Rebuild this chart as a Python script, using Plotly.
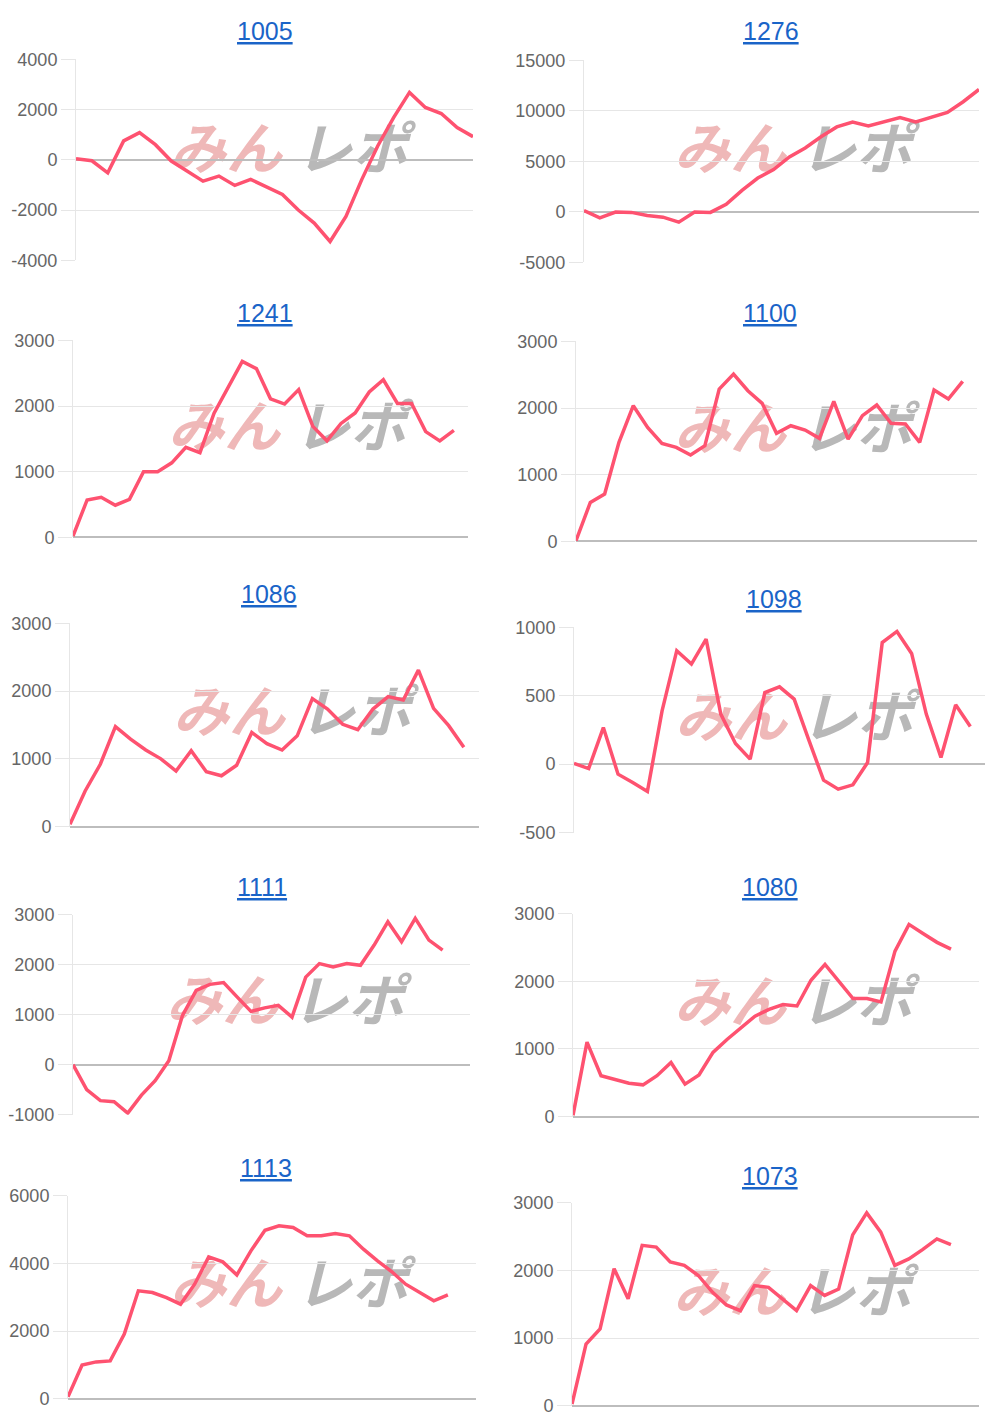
import plotly.graph_objects as go

# ---------------- data ----------------
titles = ["1005", "1276", "1241", "1100", "1086", "1098", "1111", "1080", "1113", "1073"]
slot_counts = [26, 26, 29, 29, 28, 29, 30, 30, 30, 30]

s1005 = [40, -40, -520, 750, 1080, 600, -50, -450, -850, -650, -1020, -780, -1090,
         -1380, -2000, -2520, -3250, -2250, -780, 550, 1680, 2680, 2080, 1840, 1280, 920]
s1276 = [130, -600, -30, -60, -360, -530, -1030, -30, -60, 730, 2120, 3340, 4170,
         5430, 6320, 7420, 8400, 8870, 8500, 8900, 9330, 8900, 9330, 9830, 10890, 12110]
s1241 = [20, 570, 610, 490, 580, 1000, 1000, 1135, 1370, 1290, 1890, 2290, 2680, 2570,
         2110, 2030, 2250, 1690, 1470, 1735, 1895, 2215, 2400, 2040, 2040, 1610, 1470, 1630]
s1100 = [10, 585, 710, 1485, 2035, 1710, 1470, 1410, 1295, 1435, 2285, 2510, 2260, 2070,
         1620, 1735, 1670, 1545, 2100, 1535, 1885, 2045, 1770, 1760, 1485, 2270, 2135, 2400]
s1086 = [35, 525, 920, 1475, 1290, 1130, 1000, 820, 1120, 810, 750, 905, 1390, 1225,
         1130, 1340, 1890, 1735, 1510, 1430, 1735, 1920, 1870, 2310, 1745, 1490, 1170]
s1098 = [5, -32, 268, -73, -134, -200, 390, 830, 732, 915, 366, 151, 37, 524, 566, 476,
         176, -117, -183, -151, 12, 890, 971, 810, 366, 49, 434, 276]
s1111 = [0, -500, -720, -740, -970, -610, -320, 80, 985, 1485, 1605, 1640, 1350, 1065,
         1135, 1185, 950, 1750, 2020, 1955, 2020, 1985, 2390, 2855, 2455, 2925, 2490, 2290]
s1080 = [20, 1100, 605, 555, 495, 470, 605, 800, 480, 615, 950, 1140, 1320, 1485, 1585,
         1655, 1635, 2015, 2250, 1995, 1745, 1745, 1695, 2445, 2840, 2705, 2575, 2475]
s1113 = [60, 995, 1090, 1120, 1910, 3190, 3140, 2990, 2795, 3385, 4190, 4045, 3660, 4370,
         4980, 5110, 5060, 4815, 4815, 4885, 4815, 4420, 4075, 3760, 3385, 3140, 2895, 3070]
s1073 = [25, 910, 1135, 2025, 1580, 2370, 2345, 2125, 2075, 1925, 1680, 1490, 1405, 1775,
         1750, 1570, 1405, 1775, 1630, 1725, 2525, 2850, 2565, 2075, 2170, 2310, 2465, 2380]

series = [s1005, s1276, s1241, s1100, s1086, s1098, s1111, s1080, s1113, s1073]

ticks_1005 = [-4000, -2000, 0, 2000, 4000]
ticks_1276 = [-5000, 0, 5000, 10000, 15000]
ticks_1241 = [0, 1000, 2000, 3000]
ticks_1100 = [0, 1000, 2000, 3000]
ticks_1086 = [0, 1000, 2000, 3000]
ticks_1098 = [-500, 0, 500, 1000]
ticks_1111 = [-1000, 0, 1000, 2000, 3000]
ticks_1080 = [0, 1000, 2000, 3000]
ticks_1113 = [0, 2000, 4000, 6000]
ticks_1073 = [0, 1000, 2000, 3000]
tick_lists = [ticks_1005, ticks_1276, ticks_1241, ticks_1100, ticks_1086,
              ticks_1098, ticks_1111, ticks_1080, ticks_1113, ticks_1073]

# ---------------- layout (page pixels) ----------------
PAGE_OX = 8                      # body margin (horizontal)
OY, SY = 17.8, 0.9855            # observed vertical placement of the figure on the page
W, H = 984, 1420                 # figure size


def px(X):
    return (X - PAGE_OX) / W


def py(Y):
    return 1 - ((Y - OY) / SY) / H


# plot boxes in page pixels: x0, x1, ytop, ybottom
boxes = [
    (76, 473, 59, 260), (584, 979, 60, 262),
    (73, 468, 340, 537), (576, 977, 341, 541),
    (70, 479, 623, 826), (574, 985, 627, 832),
    (73, 470, 914, 1114), (573, 979, 913, 1116),
    (68, 476, 1195, 1398), (572, 979, 1202, 1405),
]
title_pos = [
    (265, 31), (771, 31), (265, 313), (770, 313), (269, 594),
    (774, 599), (262, 886), (770, 886), (266, 1167), (770, 1175),
]
wm_center = [
    (292, 153), (796, 153), (290, 431), (796, 433), (295, 716),
    (797, 721), (288, 1005), (796, 1006), (292, 1288), (795, 1296),
]

LINE = "#fe5270"
GRID = "#e6e6e6"
ZERO = "#bdbdbd"
TICKFONT = dict(family="Liberation Sans, Arial, sans-serif", size=18, color="#666666")

fig = go.Figure()
annotations = []
shapes = []

for i in range(10):
    n = i + 1
    xa = "xaxis" if n == 1 else f"xaxis{n}"
    ya = "yaxis" if n == 1 else f"yaxis{n}"
    xr = "x" if n == 1 else f"x{n}"
    yr = "y" if n == 1 else f"y{n}"
    x0, x1, yt, yb = boxes[i]
    vals = series[i]
    ticks = tick_lists[i]

    fig.add_trace(go.Scatter(
        x=list(range(len(vals))), y=vals, mode="lines",
        line=dict(color=LINE, width=3.5), xaxis=xr, yaxis=yr,
        showlegend=False, hoverinfo="skip",
    ))

    fig.layout[xa] = dict(
        domain=[px(x0), px(x1)], anchor=yr, range=[0, slot_counts[i] - 1],
        showgrid=False, zeroline=False, showticklabels=False, ticks="",
        showline=False, fixedrange=True,
    )
    fig.layout[ya] = dict(
        domain=[py(yb), py(yt)], anchor=xr, range=[ticks[0], ticks[-1]],
        tickvals=ticks, ticktext=[str(t) for t in ticks], tickfont=TICKFONT,
        showgrid=True, gridcolor=GRID, gridwidth=1,
        zeroline=True, zerolinecolor=ZERO, zerolinewidth=1.5,
        showline=True, linecolor=GRID, linewidth=1,
        ticks="outside", ticklen=14, tickcolor=GRID, tickwidth=1,
        fixedrange=True,
    )

    tx, ty = title_pos[i]
    annotations.append(dict(
        text=titles[i], xref="paper", yref="paper", x=px(tx), y=py(ty),
        xanchor="center", yanchor="middle", showarrow=False,
        font=dict(family="Liberation Sans, Arial, sans-serif", size=25,
                  color="#1a64c8", lineposition="under"),
    ))

    cx, cy = wm_center[i]
    shapes.append(dict(
        type="rect", xref="paper", yref="paper", layer="below",
        x0=px(cx - 125), x1=px(cx - 4), y0=py(cy + 24), y1=py(cy - 24),
        line=dict(width=0), fillcolor="rgba(0,0,0,0)",
        label=dict(text="みん", textposition="middle right",
                   font=dict(family="Noto Sans CJK JP", size=56, color="#efb8b8",
                             weight="bold", style="italic")),
    ))
    shapes.append(dict(
        type="rect", xref="paper", yref="paper", layer="below",
        x0=px(cx - 2), x1=px(cx + 125), y0=py(cy + 24), y1=py(cy - 24),
        line=dict(width=0), fillcolor="rgba(0,0,0,0)",
        label=dict(text="レポ", textposition="middle left",
                   font=dict(family="Noto Sans CJK JP", size=56, color="#b8b8b8",
                             weight="bold", style="italic")),
    ))

fig.update_layout(
    width=W, height=H, margin=dict(l=0, r=0, t=0, b=0),
    paper_bgcolor="white", plot_bgcolor="rgba(0,0,0,0)",
    annotations=annotations, shapes=shapes, showlegend=False,
)

fig.write_html("out.html", config={"displayModeBar": False})
